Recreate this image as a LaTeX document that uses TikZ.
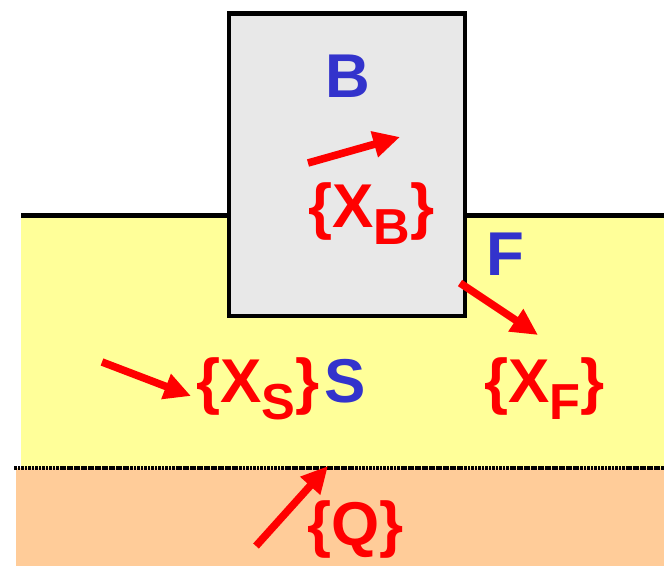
\documentclass[tikz,border=0pt]{standalone}
\usepackage{fontspec}
\setmainfont{Liberation Sans}
\usetikzlibrary{arrows.meta}
\definecolor{namecol}{RGB}{51,51,204}
\definecolor{setcol}{RGB}{255,0,0}
\definecolor{sandfill}{RGB}{255,255,153}
\definecolor{clayfill}{RGB}{255,204,153}
\definecolor{blockfill}{RGB}{232,232,232}
\newcommand{\subx}[1]{\raisebox{-12.5pt}{\fontsize{36}{40}\selectfont #1}}
\newcommand{\setof}[1]{\{X\subx{#1}\}}

\begin{document}
\begin{tikzpicture}[
  x=0.025cm, y=-0.025cm,
  bigfont/.style={font=\fontsize{44}{48}\selectfont\bfseries},
  region/.style={bigfont, text=namecol, inner sep=0pt, anchor=base west},
  varset/.style={bigfont, text=setcol, inner sep=0pt, anchor=base west},
  flux/.style={draw=setcol, line width=5.4pt,
               -{Triangle[length=19pt, width=18pt]}},
  edge/.style={line width=3.5pt},
]
\useasboundingbox (0,0) rectangle (664,566);

%% layers
\fill[sandfill] (21,215.5) rectangle (664,468);
\fill[clayfill] (16,468) rectangle (664,566);
\draw[edge] (21,215.5) -- (229,215.5);
\draw[edge] (465,215.5) -- (664,215.5);
\draw[line width=3pt, dash pattern=on 2pt off 0.5pt] (14,468) -- (664,468);

%% block
\draw[edge, fill=blockfill] (229,13.5) rectangle (465,316);

%% names
\node[region] (nameB) at (325,97) {B};
\node[region] (nameF) at (486,275) {F};
\node[region] (nameS) at (324,402) {S};

%% sets
\node[varset] (setB) at (308,227) {\setof{B}};
\node[varset] (setS) at (196,402) {\setof{S}};
\node[varset] (setF) at (484,402) {\setof{F}};
\node[varset] (setQ) at (307,545) {\{Q\}};

%% fluxes
\coordinate (bfrom) at (308,163);
\coordinate (bto) at (400,137);
\coordinate (ffrom) at (460,283);
\coordinate (fto) at (538,335);
\coordinate (sfrom) at (102,362);
\coordinate (sto) at (191,396);
\coordinate (qfrom) at (256,546);
\coordinate (qto) at (328,466);

\draw[flux] (bfrom) -- (bto);
\draw[flux] (ffrom) -- (fto);
\draw[flux] (sfrom) -- (sto);
\draw[flux] (qfrom) -- (qto);

\end{tikzpicture}
\end{document}
